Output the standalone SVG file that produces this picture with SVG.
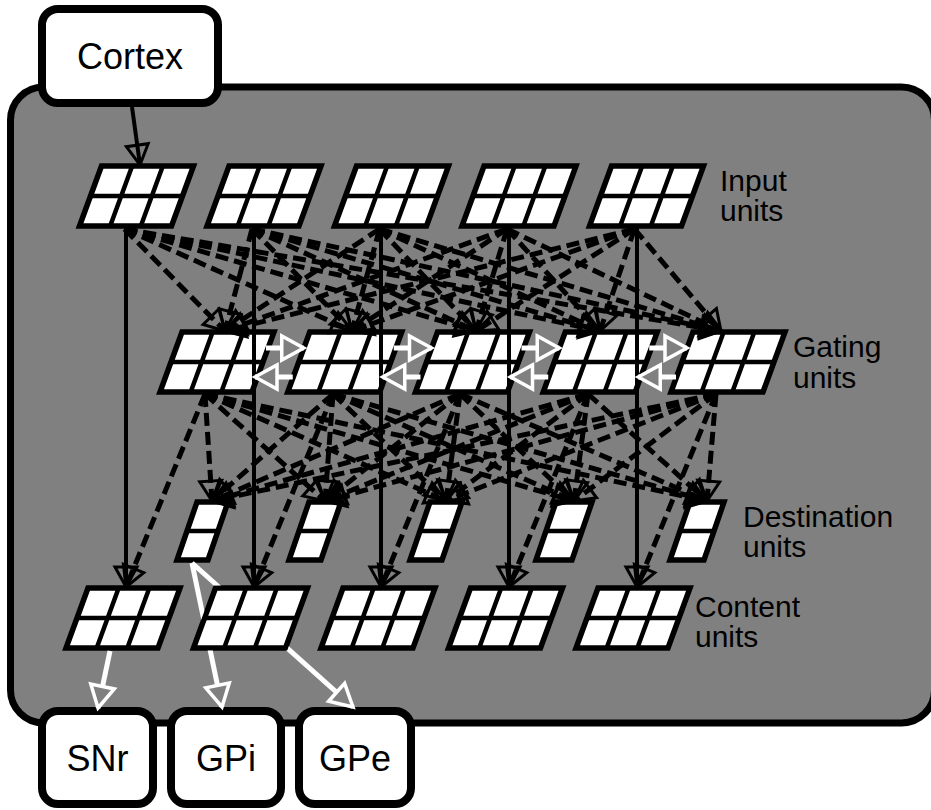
<svg xmlns="http://www.w3.org/2000/svg" xmlns:xlink="http://www.w3.org/1999/xlink" width="931" height="810" viewBox="0 0 931 810">
<style>
.cell{fill:#fff;stroke:#000;stroke-width:5.5;stroke-linejoin:miter}
.div{stroke:#000;stroke-width:4.5;fill:none}
.box{fill:#fff;stroke:#000;stroke-width:8}
.lbl{font-family:"Liberation Sans",Arial,sans-serif;font-size:30px;fill:#000}
.big{font-family:"Liberation Sans",Arial,sans-serif;font-size:36px;fill:#000;text-anchor:middle}
.d{stroke:#000;stroke-width:5;stroke-dasharray:13 6;fill:none;marker-end:url(#ab)}
.s{stroke:#000;stroke-width:4;fill:none;marker-end:url(#ab)}
.w{stroke:#fff;stroke-width:5;fill:none;marker-end:url(#aw)}
</style>
<defs>
<marker id="ab" markerUnits="userSpaceOnUse" orient="auto" refX="0" refY="0" markerWidth="30" markerHeight="30" viewBox="-25 -15 30 30" overflow="visible"><path d="M0,0 L-20,-11 L-20,11 Z" fill="none" stroke="#000" stroke-width="3" stroke-dasharray="none"/></marker>
<marker id="aw" markerUnits="userSpaceOnUse" orient="auto" refX="0" refY="0" markerWidth="30" markerHeight="30" viewBox="-26 -15 30 30" overflow="visible"><path d="M0,0 L-22,-12 L-22,12 Z" fill="#808080" stroke="#fff" stroke-width="3.5" stroke-dasharray="none"/></marker>
<g id="u6"><polygon class="cell" points="0,0 92,0 70,60 -22,60"/><path class="div" d="M30.67,0 L8.67,60 M61.33,0 L39.33,60 M-11,30 L81,30"/></g>
<mask id="m2" maskUnits="userSpaceOnUse" x="0" y="0" width="931" height="810"><rect width="931" height="810" fill="#fff"/><polygon points="215.5,588 307.5,588 285.5,648 193.5,648" fill="#000" stroke="#000" stroke-width="5"/></mask>
</defs>

<g id="panel"><rect x="10.5" y="87" width="924" height="636" rx="33" fill="#808080" stroke="#000" stroke-width="7"/></g>

<g id="cortex"><rect class="box" x="42" y="9" width="176" height="94" rx="16"/><text class="big" x="130" y="69">Cortex</text></g>

<g id="in1"><use href="#u6" x="101.5" y="166"/></g>
<g id="in2"><use href="#u6" x="229" y="166"/></g>
<g id="in3"><use href="#u6" x="356.5" y="166"/></g>
<g id="in4"><use href="#u6" x="484" y="166"/></g>
<g id="in5"><use href="#u6" x="611.5" y="166"/></g>

<g id="gate1"><use href="#u6" x="182" y="332"/></g>
<g id="gate2"><use href="#u6" x="309.75" y="332"/></g>
<g id="gate3"><use href="#u6" x="437.5" y="332"/></g>
<g id="gate4"><use href="#u6" x="565.25" y="332"/></g>
<g id="gate5"><use href="#u6" x="693" y="332"/></g>

<g id="dest1" transform="translate(197,502)"><polygon class="cell" points="0,0 31,0 11,58 -20,58"/><path class="div" d="M-10,29 L21,29"/></g>
<g id="dest2" transform="translate(309,502)"><polygon class="cell" points="0,0 32,0 12,58 -20,58"/><path class="div" d="M-10,29 L22,29"/></g>
<g id="dest3" transform="translate(430,502)"><polygon class="cell" points="0,0 32,0 12,58 -20,58"/><path class="div" d="M-10,29 L22,29"/></g>
<g id="dest4" transform="translate(556,502)"><polygon class="cell" points="0,0 36,0 16,58 -20,58"/><path class="div" d="M-10,29 L26,29"/></g>
<g id="dest5" transform="translate(690,502)"><polygon class="cell" points="0,0 34,0 14,58 -20,58"/><path class="div" d="M-10,29 L24,29"/></g>

<g id="cont1"><use href="#u6" x="88" y="588"/></g>
<g id="cont2"><use href="#u6" x="215.5" y="588"/></g>
<g id="cont3"><use href="#u6" x="343" y="588"/></g>
<g id="cont4"><use href="#u6" x="470.5" y="588"/></g>
<g id="cont5"><use href="#u6" x="598" y="588"/></g>

<g id="snr"><rect class="box" x="42" y="711" width="111" height="93" rx="16"/><text class="big" x="97.5" y="771">SNr</text></g>
<g id="gpi"><rect class="box" x="171" y="711" width="110" height="93" rx="16"/><text class="big" x="226" y="771">GPi</text></g>
<g id="gpe"><rect class="box" x="299" y="711" width="112" height="93" rx="16"/><text class="big" x="355" y="771">GPe</text></g>

<g id="labels">
<text class="lbl" x="720" y="191">Input<tspan x="720" dy="30">units</tspan></text>
<text class="lbl" x="793" y="357">Gating<tspan x="793" dy="31">units</tspan></text>
<text class="lbl" x="743" y="527">Destination<tspan x="743" dy="30">units</tspan></text>
<text class="lbl" x="695" y="617">Content<tspan x="695" dy="30">units</tspan></text>
</g>

<g id="connectors">
<line class="s" x1="132" y1="107" x2="140" y2="165"/>
<line class="s" x1="126" y1="228" x2="126" y2="587"/>
<line class="s" x1="254" y1="228" x2="254" y2="587"/>
<line class="s" x1="381" y1="228" x2="381" y2="587"/>
<line class="s" x1="509" y1="228" x2="509" y2="587"/>
<line class="s" x1="637" y1="228" x2="637" y2="587"/>

<line class="d" x1="124.5" y1="229" x2="225" y2="331"/>
<line class="d" x1="124.5" y1="229" x2="352" y2="331"/>
<line class="d" x1="124.5" y1="229" x2="476" y2="331"/>
<line class="d" x1="124.5" y1="229" x2="600" y2="331"/>
<line class="d" x1="124.5" y1="229" x2="721" y2="331"/>
<line class="d" x1="252" y1="229" x2="225" y2="331"/>
<line class="d" x1="252" y1="229" x2="352" y2="331"/>
<line class="d" x1="252" y1="229" x2="476" y2="331"/>
<line class="d" x1="252" y1="229" x2="600" y2="331"/>
<line class="d" x1="252" y1="229" x2="721" y2="331"/>
<line class="d" x1="379.5" y1="229" x2="225" y2="331"/>
<line class="d" x1="379.5" y1="229" x2="352" y2="331"/>
<line class="d" x1="379.5" y1="229" x2="476" y2="331"/>
<line class="d" x1="379.5" y1="229" x2="600" y2="331"/>
<line class="d" x1="379.5" y1="229" x2="721" y2="331"/>
<line class="d" x1="507" y1="229" x2="225" y2="331"/>
<line class="d" x1="507" y1="229" x2="352" y2="331"/>
<line class="d" x1="507" y1="229" x2="476" y2="331"/>
<line class="d" x1="507" y1="229" x2="600" y2="331"/>
<line class="d" x1="507" y1="229" x2="721" y2="331"/>
<line class="d" x1="634.5" y1="229" x2="225" y2="331"/>
<line class="d" x1="634.5" y1="229" x2="352" y2="331"/>
<line class="d" x1="634.5" y1="229" x2="476" y2="331"/>
<line class="d" x1="634.5" y1="229" x2="600" y2="331"/>
<line class="d" x1="634.5" y1="229" x2="721" y2="331"/>

<line class="d" x1="205" y1="394" x2="212" y2="501"/>
<line class="d" x1="205" y1="394" x2="325" y2="501"/>
<line class="d" x1="205" y1="394" x2="446" y2="501"/>
<line class="d" x1="205" y1="394" x2="574" y2="501"/>
<line class="d" x1="205" y1="394" x2="707" y2="501"/>
<line class="d" x1="333" y1="394" x2="212" y2="501"/>
<line class="d" x1="333" y1="394" x2="325" y2="501"/>
<line class="d" x1="333" y1="394" x2="446" y2="501"/>
<line class="d" x1="333" y1="394" x2="574" y2="501"/>
<line class="d" x1="333" y1="394" x2="707" y2="501"/>
<line class="d" x1="460" y1="394" x2="212" y2="501"/>
<line class="d" x1="460" y1="394" x2="325" y2="501"/>
<line class="d" x1="460" y1="394" x2="446" y2="501"/>
<line class="d" x1="460" y1="394" x2="574" y2="501"/>
<line class="d" x1="460" y1="394" x2="707" y2="501"/>
<line class="d" x1="588" y1="394" x2="212" y2="501"/>
<line class="d" x1="588" y1="394" x2="325" y2="501"/>
<line class="d" x1="588" y1="394" x2="446" y2="501"/>
<line class="d" x1="588" y1="394" x2="574" y2="501"/>
<line class="d" x1="588" y1="394" x2="707" y2="501"/>
<line class="d" x1="716" y1="394" x2="212" y2="501"/>
<line class="d" x1="716" y1="394" x2="325" y2="501"/>
<line class="d" x1="716" y1="394" x2="446" y2="501"/>
<line class="d" x1="716" y1="394" x2="574" y2="501"/>
<line class="d" x1="716" y1="394" x2="707" y2="501"/>

<line class="d" x1="205" y1="394" x2="126" y2="587"/>
<line class="d" x1="333" y1="394" x2="254" y2="587"/>
<line class="d" x1="460" y1="394" x2="381" y2="587"/>
<line class="d" x1="588" y1="394" x2="509" y2="587"/>
<line class="d" x1="716" y1="394" x2="637" y2="587"/>

<line class="w" x1="266" y1="348" x2="303.75" y2="348"/>
<line class="w" x1="393.75" y1="348" x2="431.5" y2="348"/>
<line class="w" x1="521.5" y1="348" x2="559.25" y2="348"/>
<line class="w" x1="649.25" y1="348" x2="687" y2="348"/>
<line class="w" x1="292.75" y1="377" x2="255" y2="377"/>
<line class="w" x1="420.5" y1="377" x2="382.75" y2="377"/>
<line class="w" x1="548.25" y1="377" x2="510.5" y2="377"/>
<line class="w" x1="676" y1="377" x2="638.25" y2="377"/>

<line class="w" x1="110" y1="651" x2="98" y2="708"/>
<line class="w" x1="192" y1="563" x2="222" y2="707" mask="url(#m2)"/>
<line class="w" x1="192" y1="563" x2="353" y2="707" mask="url(#m2)"/>
</g>
</svg>
